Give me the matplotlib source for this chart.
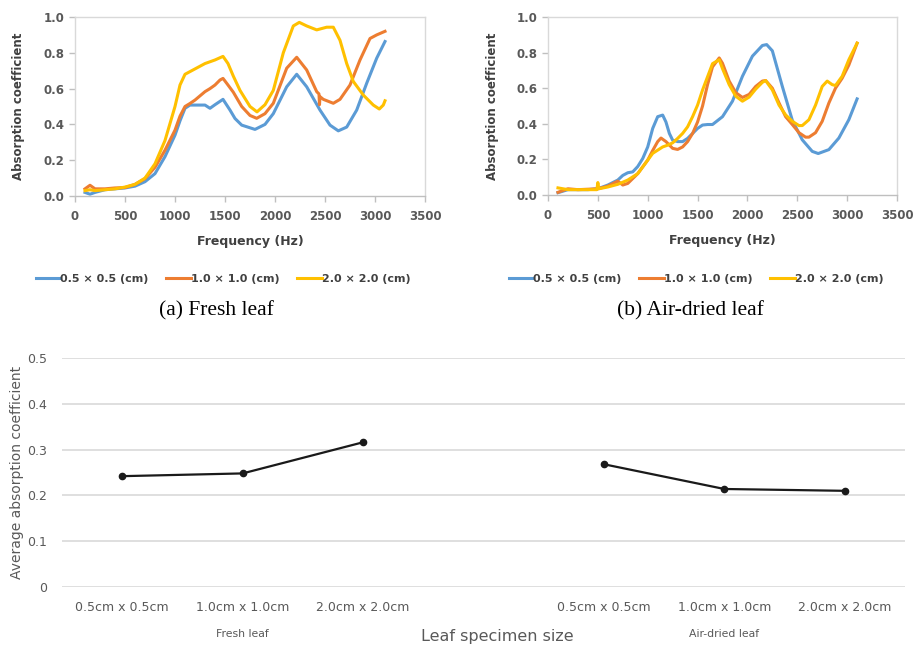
import numpy as np
import matplotlib.pyplot as plt

sizes = ["0.5 × 0.5 (cm)", "1.0 × 1.0 (cm)", "2.0 × 2.0 (cm)"]
colors = ["#5B9BD5", "#ED7D31", "#FFC000"]

# (a) fresh leaf
fresh_f_05 = [100, 150, 200, 300, 400, 500, 600, 700, 800, 900, 1000, 1050, 1100, 1150, 1200, 1300, 1350, 1400,
              1480, 1550, 1600, 1667, 1800, 1900, 1983, 2117, 2217, 2317, 2450, 2550, 2633, 2717, 2817, 2917, 3017, 3100]
fresh_a_05 = [0.02, 0.01, 0.02, 0.035, 0.04, 0.045, 0.055, 0.08, 0.125, 0.22, 0.34, 0.42, 0.49, 0.508, 0.508, 0.508, 0.49, 0.51,
              0.54, 0.48, 0.433, 0.396, 0.372, 0.40, 0.46, 0.61, 0.68, 0.61, 0.48, 0.396, 0.364, 0.385, 0.48, 0.63, 0.77, 0.863]

fresh_f_10 = [100, 150, 200, 300, 400, 500, 600, 700, 800, 900, 1000, 1050, 1100, 1150, 1200, 1300, 1350, 1400, 1450, 1480,
              1530, 1583, 1667, 1750, 1817, 1900, 1983, 2117, 2217, 2317, 2417, 2440, 2445, 2450, 2483, 2583, 2650, 2750,
              2850, 2950, 3017, 3100]
fresh_a_10 = [0.04, 0.06, 0.04, 0.04, 0.045, 0.047, 0.065, 0.097, 0.16, 0.256, 0.368, 0.446, 0.50, 0.517, 0.536, 0.583, 0.60,
              0.62, 0.648, 0.657, 0.62, 0.58, 0.50, 0.45, 0.434, 0.46, 0.518, 0.714, 0.775, 0.704, 0.583, 0.57, 0.51, 0.555,
              0.54, 0.518, 0.54, 0.62, 0.76, 0.88, 0.90, 0.92]

fresh_f_20 = [100, 150, 200, 300, 400, 500, 600, 700, 800, 900, 1000, 1050, 1100, 1200, 1300, 1400, 1480, 1530, 1583, 1650,
              1750, 1820, 1900, 1983, 2083, 2183, 2243, 2317, 2417, 2517, 2583, 2650, 2717, 2783, 2883, 2983, 3043, 3083, 3100]
fresh_a_20 = [0.03, 0.035, 0.03, 0.035, 0.04, 0.05, 0.065, 0.10, 0.18, 0.31, 0.50, 0.62, 0.68, 0.71, 0.74, 0.76, 0.78, 0.74,
              0.67, 0.59, 0.50, 0.47, 0.51, 0.59, 0.80, 0.95, 0.97, 0.95, 0.928, 0.943, 0.943, 0.87, 0.74, 0.64, 0.564, 0.508,
              0.486, 0.508, 0.532]

# (b) air-dried leaf
dried_f_05 = [100, 200, 300, 400, 500, 600, 700, 750, 800, 850, 900, 950, 1000, 1050, 1100, 1150, 1183, 1217, 1250, 1300,
              1350, 1400, 1450, 1500, 1550, 1600, 1650, 1750, 1850, 1950, 2050, 2150, 2193, 2250, 2350, 2450, 2550, 2650,
              2710, 2817, 2917, 3017, 3100]
dried_a_05 = [0.013, 0.03, 0.03, 0.03, 0.035, 0.056, 0.084, 0.11, 0.125, 0.13, 0.16, 0.205, 0.27, 0.374, 0.44, 0.449, 0.41,
              0.346, 0.308, 0.30, 0.30, 0.318, 0.346, 0.374, 0.393, 0.396, 0.396, 0.44, 0.527, 0.667, 0.78, 0.84, 0.845,
              0.81, 0.61, 0.42, 0.31, 0.245, 0.233, 0.255, 0.32, 0.423, 0.54]

dried_f_10 = [100, 200, 300, 500, 600, 700, 750, 800, 900, 1000, 1050, 1100, 1133, 1183, 1250, 1300, 1350, 1400, 1450, 1500,
              1550, 1600, 1650, 1717, 1750, 1817, 1883, 1950, 2017, 2083, 2150, 2183, 2250, 2317, 2383, 2450, 2517, 2583,
              2617, 2683, 2750, 2817, 2883, 2950, 3017, 3100]
dried_a_10 = [0.015, 0.035, 0.03, 0.035, 0.05, 0.078, 0.056, 0.065, 0.12, 0.196, 0.25, 0.30, 0.32, 0.30, 0.262, 0.256, 0.27,
              0.30, 0.346, 0.41, 0.50, 0.62, 0.72, 0.77, 0.74, 0.64, 0.575, 0.548, 0.565, 0.61, 0.64, 0.643, 0.60, 0.517,
              0.44, 0.396, 0.35, 0.325, 0.325, 0.35, 0.414, 0.517, 0.60, 0.656, 0.73, 0.853]

dried_f_20 = [100, 200, 300, 490, 500, 510, 600, 700, 800, 900, 1000, 1050, 1100, 1150, 1200, 1250, 1300, 1350, 1400, 1450,
              1500, 1550, 1600, 1650, 1717, 1750, 1817, 1883, 1950, 2017, 2083, 2150, 2183, 2250, 2317, 2383, 2450, 2517,
              2550, 2617, 2683, 2750, 2800, 2850, 2883, 2950, 3017, 3100]
dried_a_20 = [0.04, 0.03, 0.03, 0.03, 0.07, 0.035, 0.045, 0.06, 0.084, 0.12, 0.196, 0.234, 0.252, 0.27, 0.28, 0.293, 0.318,
              0.346, 0.383, 0.44, 0.505, 0.59, 0.664, 0.738, 0.76, 0.71, 0.62, 0.555, 0.527, 0.55, 0.595, 0.633, 0.643,
              0.59, 0.505, 0.45, 0.414, 0.39, 0.39, 0.423, 0.505, 0.61, 0.64, 0.62, 0.615, 0.667, 0.76, 0.853]

# average absorption
size_labels = ["0.5cm x 0.5cm", "1.0cm x 1.0cm", "2.0cm x 2.0cm"]
fresh_avg = [0.242, 0.248, 0.316]
dried_avg = [0.268, 0.214, 0.210]

W, H = 913, 650
fig = plt.figure(figsize=(W / 100, H / 100), dpi=100)

txt = "#404040"
grey = "#595959"
frame = "#d9d9d9"


def top_panel(rect, series, ylab_x, leg_x, leg_y):
    ax = fig.add_axes(rect)
    for (f, a), c, lab in zip(series, colors, sizes):
        ax.plot(f, a, color=c, lw=2.2, label=lab)
    ax.set_xlim(0, 3500)
    ax.set_ylim(0, 1.0)
    ax.set_xticks(np.arange(0, 3501, 500))
    ax.set_yticks(np.arange(0, 1.01, 0.2))
    ax.set_yticklabels(["%.1f" % v for v in np.arange(0, 1.01, 0.2)])
    for s in ax.spines.values():
        s.set_color(frame)
        s.set_linewidth(1)
    ax.spines["bottom"].set_color("#bfbfbf")
    ax.tick_params(axis="both", colors="#bfbfbf", length=4, width=1, labelcolor=grey, labelsize=8.5)
    ax.tick_params(axis="x", pad=6)
    for lbl in ax.get_xticklabels() + ax.get_yticklabels():
        lbl.set_fontweight("bold")
    ax.set_xlabel("Frequency (Hz)", fontsize=9, fontweight="bold", color=txt)
    ax.xaxis.set_label_coords(0.5, -0.22)
    ax.set_ylabel("Absorption coefficient", fontsize=8.5, fontweight="bold", color=txt)
    ax.yaxis.set_label_coords(ylab_x, 0.5)
    leg = ax.legend(loc="center", bbox_to_anchor=(leg_x, leg_y), ncol=3, frameon=False,
                    handlelength=2.2, handletextpad=0.0, columnspacing=1.6,
                    prop={"size": 8, "weight": "bold"})
    for t in leg.get_texts():
        t.set_color(txt)
    return ax


top_panel([75 / W, 1 - 196 / H, 350 / W, 179 / H],
          [(fresh_f_05, fresh_a_05), (fresh_f_10, fresh_a_10), (fresh_f_20, fresh_a_20)],
          -0.142, 0.423, -0.464)
top_panel([548 / W, 1 - 195 / H, 349 / W, 178 / H],
          [(dried_f_05, dried_a_05), (dried_f_10, dried_a_10), (dried_f_20, dried_a_20)],
          -0.14, 0.424, -0.472)

fig.text(216 / W, 1 - 311 / H, "(a) Fresh leaf", ha="center", va="center",
         family="Liberation Serif", fontsize=15.5)
fig.text(690 / W, 1 - 311 / H, "(b) Air-dried leaf", ha="center", va="center",
         family="Liberation Serif", fontsize=15.5)

# bottom panel
ax = fig.add_axes([62 / W, 1 - 587 / H, 843 / W, 229 / H])
xf = [0, 1, 2]
xd = [4, 5, 6]
ax.plot(xf, fresh_avg, color="#1a1a1a", lw=1.6, marker="o", ms=4.5)
ax.plot(xd, dried_avg, color="#1a1a1a", lw=1.6, marker="o", ms=4.5)
ax.set_xlim(-0.5, 6.5)
ax.set_ylim(0, 0.5)
ax.set_yticks([0, 0.1, 0.2, 0.3, 0.4, 0.5])
ax.set_yticklabels(["0", "0.1", "0.2", "0.3", "0.4", "0.5"])
ax.set_xticks(xf + xd)
ax.set_xticklabels(size_labels + size_labels)
ax.grid(axis="y", color=frame, lw=1.2)
ax.set_axisbelow(True)
for s in ax.spines.values():
    s.set_visible(False)
ax.tick_params(axis="both", length=0, labelcolor=grey, labelsize=9)
ax.tick_params(axis="y", pad=11)
ax.tick_params(axis="x", pad=10)
ax.set_ylabel("Average absorption coefficient", fontsize=10, color=grey)
ax.yaxis.set_label_coords(-0.045, 0.5)
ax.text(1, -0.205, "Fresh leaf", transform=ax.get_xaxis_transform(), ha="center", va="center",
        fontsize=7.8, color=grey)
ax.text(5, -0.205, "Air-dried leaf", transform=ax.get_xaxis_transform(), ha="center", va="center",
        fontsize=7.8, color=grey)
ax.text(0.516, -0.218, "Leaf specimen size", transform=ax.transAxes, ha="center", va="center",
        fontsize=11.5, color=grey)

fig.savefig("out.png", dpi=100)
